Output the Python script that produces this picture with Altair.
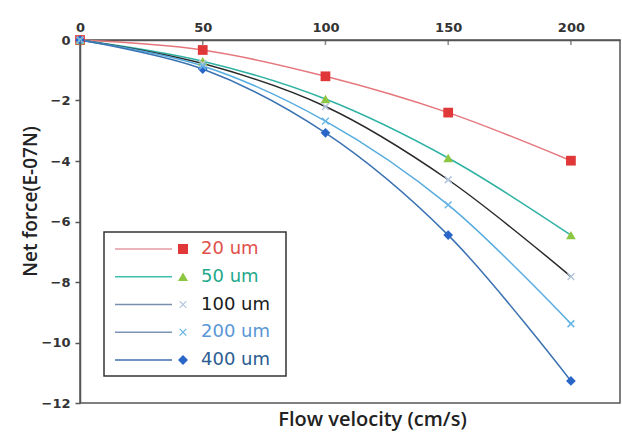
import altair as alt
import pandas as pd

# ---- data ----
velocity = [0, 50, 100, 150, 200]
series = ["20 um", "50 um", "100 um", "200 um", "400 um"]
force_20 = [0, -0.33, -1.20, -2.40, -3.99]
force_50 = [0, -0.70, -1.95, -3.90, -6.45]
force_100 = [0, -0.78, -2.20, -4.62, -7.82]
force_200 = [0, -0.86, -2.68, -5.45, -9.38]
force_400 = [0, -0.96, -3.07, -6.45, -11.27]
x_ticks = [0, 50, 100, 150, 200]
y_ticks = [0, -2, -4, -6, -8, -10, -12]
x_series = ["100 um", "200 um"]  # drawn with an "x" marker

# ---- styles ----
LINE = ["#e5777d", "#2fb2a4", "#2a2a2a", "#55acde", "#3a72b2"]
LEG_LINE = ["#e59aa2", "#3fbfb0", "#7890ae", "#7a94b8", "#3f6fae"]
MARK = ["#e03838", "#8dc641", "#b4c6dc", "#6ab6e8", "#2a66c8"]
LABEL = ["#e0504a", "#1fa88c", "#1a1a1a", "#5a97d6", "#2c5d92"]
XPATH = "M-1,-1L1,1M-1,1L1,-1"
SHAPES = ["square", "triangle-up", XPATH, XPATH, "diamond"]
AX = "#555555"
TXT = "#333333"
TITLE_FONT = "Open Sans"

rows = []
for name, vals in zip(series, [force_20, force_50, force_100, force_200, force_400]):
    for v, f in zip(velocity, vals):
        rows.append({"series": name, "v": v, "f": f})
df = pd.DataFrame(rows)
ticks_df = pd.DataFrame({"v": x_ticks})

not_x = "indexof(" + str(x_series) + ", datum.series) < 0"
is_x = "indexof(" + str(x_series) + ", datum.series) >= 0"

X = alt.X(
    "v:Q",
    scale=alt.Scale(domain=[0, 220], nice=False, zero=False),
    axis=alt.Axis(
        orient="top", values=x_ticks, tickSize=0, labelPadding=6, labelFlush=False,
        labelFont="DejaVu Sans", labelFontWeight="bold", labelFontSize=13, labelColor=TXT,
        domainColor=AX, domainWidth=1.5, grid=False,
        title="Flow velocity (cm/s)", titleX=292, titleY=379, titleAlign="center",
        titleBaseline="middle", titleFont=TITLE_FONT, titleFontSize=20,
        titleFontWeight=600, titleColor="#222222",
    ),
)
Y = alt.Y(
    "f:Q",
    scale=alt.Scale(domain=[-12, 0], nice=False, zero=False),
    axis=alt.Axis(
        values=y_ticks, format="d", tickSize=5, tickColor=AX, tickWidth=1.5,
        labelPadding=5, labelFont="DejaVu Sans", labelFontWeight="bold",
        labelFontSize=13, labelColor=TXT, domainColor=AX, domainWidth=1.5, grid=False,
        title="Net force(E-07N)", titleX=-50, titleY=161, titleAlign="center",
        titleBaseline="middle", titleFont=TITLE_FONT, titleFontSize=19,
        titleFontWeight=600, titleColor="#222222",
    ),
)

shape_scale = alt.Scale(domain=series, range=SHAPES)

lines = alt.Chart(df).mark_line(interpolate="catmull-rom", strokeWidth=1.5).encode(
    x=X, y=Y,
    stroke=alt.Stroke("series:N", scale=alt.Scale(domain=series, range=LINE), legend=None),
)
pts_filled = alt.Chart(df).transform_filter(not_x).mark_point(filled=True, size=95, opacity=1).encode(
    x=X, y=Y,
    fill=alt.Fill("series:N", scale=alt.Scale(domain=series, range=MARK), legend=None),
    shape=alt.Shape("series:N", scale=shape_scale, legend=None),
)
pts_x = alt.Chart(df).transform_filter(is_x).mark_point(filled=False, size=45, strokeWidth=1.5, opacity=1).encode(
    x=X, y=Y,
    color=alt.Color("series:N", scale=alt.Scale(domain=series, range=MARK), legend=None),
    shape=alt.Shape("series:N", scale=shape_scale, legend=None),
)
top_ticks = alt.Chart(ticks_df).mark_tick(size=10, thickness=1.5, color=AX, clip=True).encode(
    x=X, y=alt.value(0)
)
main = alt.layer(lines, pts_filled, pts_x, top_ticks)

# ---- legend (drawn with its own point scale) ----
leg = pd.DataFrame({"series": series})
LY = alt.Y("series:N", scale=alt.Scale(type="point", domain=series, range=[209, 320], padding=0), axis=None)

box = alt.Chart(pd.DataFrame({"a": [0]})).mark_rect(fill="white", stroke="#333333", strokeWidth=1.5).encode(
    x=alt.value(24), x2=alt.value(206), y=alt.value(192), y2=alt.value(336)
)
leg_rules = alt.Chart(leg).mark_rule(strokeWidth=1.5).encode(
    x=alt.value(35), x2=alt.value(92), y=LY,
    stroke=alt.Stroke("series:N", scale=alt.Scale(domain=series, range=LEG_LINE), legend=None),
)
leg_filled = alt.Chart(leg).transform_filter(not_x).mark_point(filled=True, size=100, opacity=1).encode(
    x=alt.value(103), y=LY,
    fill=alt.Fill("series:N", scale=alt.Scale(domain=series, range=MARK), legend=None),
    shape=alt.Shape("series:N", scale=shape_scale, legend=None),
)
leg_x = alt.Chart(leg).transform_filter(is_x).mark_point(filled=False, size=45, strokeWidth=1.3, opacity=1).encode(
    x=alt.value(103), y=LY,
    stroke=alt.Stroke("series:N", scale=alt.Scale(domain=series, range=MARK), legend=None),
    shape=alt.Shape("series:N", scale=shape_scale, legend=None),
)
leg_text = alt.Chart(leg).mark_text(align="left", baseline="middle", font="DejaVu Sans", fontSize=18).encode(
    x=alt.value(121), y=LY, text="series:N",
    color=alt.Color("series:N", scale=alt.Scale(domain=series, range=LABEL), legend=None),
)
legend = alt.layer(box, leg_rules, leg_filled, leg_x, leg_text).resolve_scale(
    stroke="independent", fill="independent", color="independent", shape="independent"
)

chart = (
    alt.layer(main, legend)
    .resolve_scale(y="independent", stroke="independent", fill="independent",
                   color="independent", shape="independent")
    .properties(width=540, height=363, autosize="none",
                padding={"left": 80, "top": 40, "right": 2, "bottom": 30},
                background="white")
    .configure_view(stroke=AX, strokeWidth=1.5)
)

chart.save("out.html", embed_options={"renderer": "svg", "actions": False})
